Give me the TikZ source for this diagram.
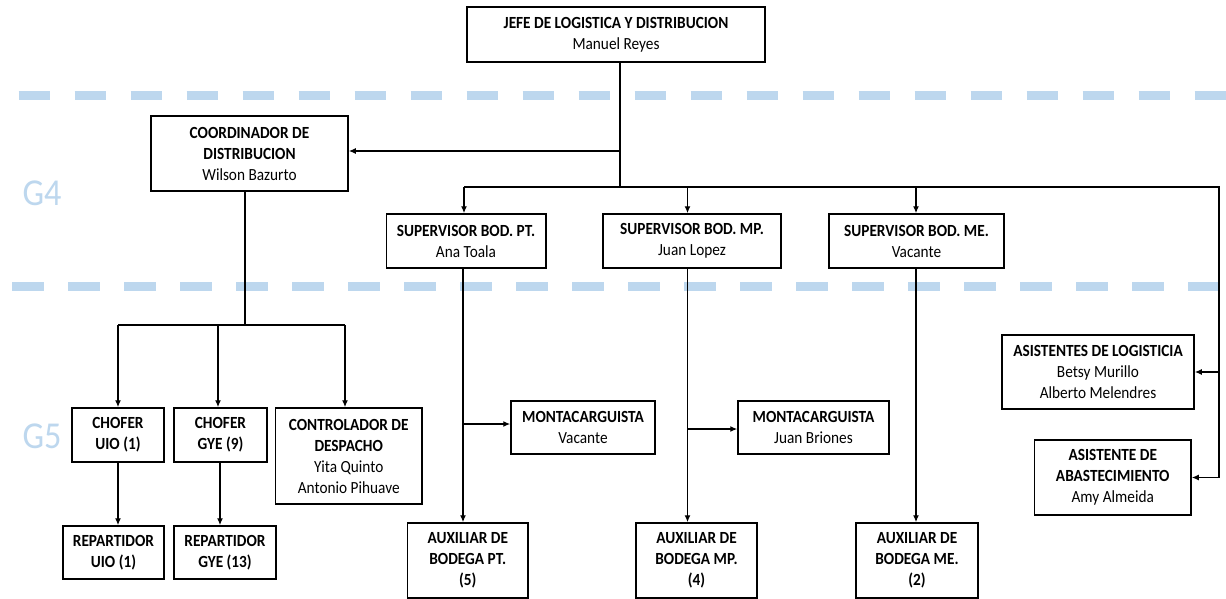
\documentclass[tikz,border=0pt]{standalone}
\usepackage{fontspec}
\setmainfont{Carlito}[FakeStretch=0.9]
\usetikzlibrary{arrows.meta}
\definecolor{glblue}{RGB}{189,215,238}
\begin{document}
\begin{tikzpicture}[x=1pt,y=-1pt,
  box/.style={draw, line width=1.5pt, inner sep=0pt, align=center,
    font=\fontsize{17}{21}\selectfont},
  conn/.style={line width=1.3pt},
  arr/.style={conn, -{Latex[length=7pt,width=6pt]}},
  gline/.style={glblue, line width=9pt, dash pattern=on 31.6pt off 24.4pt},
  glabel/.style={text=glblue, font=\fontsize{38}{38}\selectfont, inner sep=0pt}]
\useasboundingbox (0,0) rectangle (1226,599);
\fill[white] (0,0) rectangle (1226,599);

% group separators
\draw[gline] (18.6,96) -- (1226,96);
\draw[gline] (12,286) -- (1222,286);
\node[glabel] (g4) at (42,193) {G4};
\node[glabel] (g5) at (42,436) {G5};

% boxes
\node[box, minimum width=298pt, minimum height=55pt] (jefe) at (616,34.5)
  {\textbf{JEFE DE LOGISTICA Y DISTRIBUCION}\\Manuel Reyes};
\node[box, minimum width=197pt, minimum height=75pt] (coord) at (249.5,153.5)
  {\textbf{COORDINADOR DE}\\\textbf{DISTRIBUCION}\\Wilson Bazurto};
\node[box, minimum width=159.5pt, minimum height=54pt] (supPT) at (466,241)
  {\textbf{SUPERVISOR BOD. PT.}\\Ana Toala};
\node[box, minimum width=178pt, minimum height=54pt] (supMP) at (692,241)
  {\textbf{SUPERVISOR BOD. MP.}\\Juan Lopez};
\node[box, minimum width=175pt, minimum height=54pt] (supME) at (916.5,241)
  {\textbf{SUPERVISOR BOD. ME.}\\Vacante};
\node[box, minimum width=92pt, minimum height=54pt] (chUIO) at (118,435)
  {\textbf{CHOFER}\\\textbf{UIO (1)}};
\node[box, minimum width=93pt, minimum height=54pt] (chGYE) at (220.5,435)
  {\textbf{CHOFER}\\\textbf{GYE (9)}};
\node[box, minimum width=146.5pt, minimum height=96pt] (ctrl) at (348.75,456)
  {\textbf{CONTROLADOR DE}\\\textbf{DESPACHO}\\Yita Quinto\\Antonio Pihuave};
\node[box, minimum width=101pt, minimum height=53pt] (repUIO) at (113.5,552.5)
  {\textbf{REPARTIDOR}\\\textbf{UIO (1)}};
\node[box, minimum width=102pt, minimum height=53pt] (repGYE) at (225,552.5)
  {\textbf{REPARTIDOR}\\\textbf{GYE (13)}};
\node[box, minimum width=144pt, minimum height=53pt] (montaPT) at (583,427.5)
  {\textbf{MONTACARGUISTA}\\Vacante};
\node[box, minimum width=151pt, minimum height=53pt] (montaMP) at (813.5,427.5)
  {\textbf{MONTACARGUISTA}\\Juan Briones};
\node[box, minimum width=120.5pt, minimum height=75pt] (auxPT) at (467.75,560.5)
  {\textbf{AUXILIAR DE}\\\textbf{BODEGA PT.}\\\textbf{(5)}};
\node[box, minimum width=121pt, minimum height=75pt] (auxMP) at (696.5,560.5)
  {\textbf{AUXILIAR DE}\\\textbf{BODEGA MP.}\\\textbf{(4)}};
\node[box, minimum width=122pt, minimum height=75pt] (auxME) at (917,560.5)
  {\textbf{AUXILIAR DE}\\\textbf{BODEGA ME.}\\\textbf{(2)}};
\node[box, minimum width=192pt, minimum height=74pt] (asLog) at (1098,372)
  {\textbf{ASISTENTES DE LOGISTICIA}\\Betsy Murillo\\Alberto Melendres};
\node[box, minimum width=156.5pt, minimum height=75pt] (asAb) at (1112.75,477.5)
  {\textbf{ASISTENTE DE}\\\textbf{ABASTECIMIENTO}\\Amy Almeida};

% junction coordinates
\coordinate (jv) at (620,62);
\coordinate (busL) at (464,187);
\coordinate (busR) at (1219,187);
\coordinate (cv) at (245,191);
\coordinate (cbusL) at (118,325);
\coordinate (cbusR) at (345,325);
\coordinate (vPT) at (463,268);
\coordinate (vMP) at (687.5,267);
\coordinate (vME) at (916,268);

% connectors from the head
\draw[conn] (jv) -- (jv |- busL);
\draw[arr] (jv |- 0,151) -- (coord.east |- 0,151);
\draw[conn] (busL) -- (busR) -- (busR |- asAb.east);
\draw[arr] (busL) -- (busL |- supPT.north);
\draw[arr] (vMP |- busL) -- (vMP |- supMP.north);
\draw[arr] (vME |- busL) -- (vME |- supME.north);
\draw[arr] (busR |- asLog.east) -- (asLog.east);
\draw[arr] (busR |- asAb.east) -- (asAb.east);

% coordinator branch
\draw[conn] (cv) -- (cv |- cbusL);
\draw[conn] (cbusL) -- (cbusR);
\draw[arr] (cbusL) -- (cbusL |- chUIO.north);
\draw[arr] (218,325) -- (218,0 |- chGYE.north);
\draw[arr] (cbusR) -- (cbusR |- ctrl.north);
\draw[arr] (chUIO.south -| cbusL) -- (cbusL |- repUIO.north);
\draw[arr] (220,462) -- (220,0 |- repGYE.north);

% warehouse branches
\draw[arr] (vPT) -- (vPT |- auxPT.north);
\draw[arr] (vPT |- 0,424) -- (montaPT.west |- 0,424);
\draw[arr] (vMP) -- (vMP |- auxMP.north);
\draw[arr] (vMP |- 0,429) -- (montaMP.west |- 0,429);
\draw[arr] (vME) -- (vME |- auxME.north);
\end{tikzpicture}
\end{document}
